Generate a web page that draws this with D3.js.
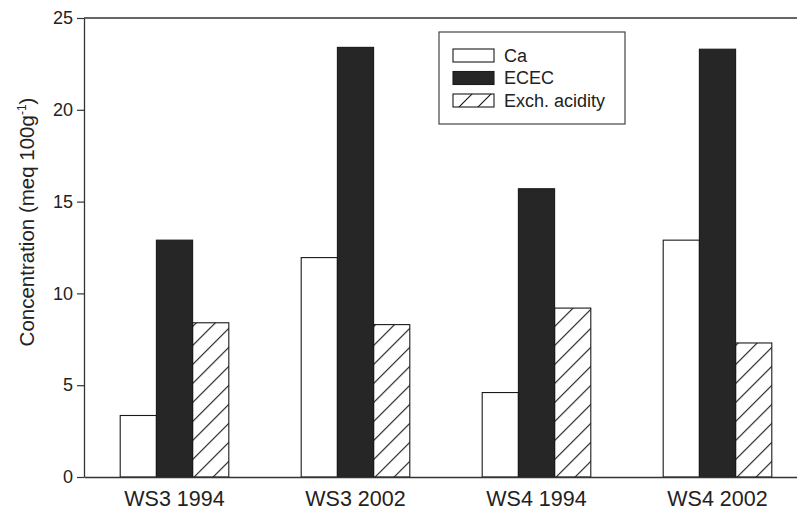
<!DOCTYPE html>
<html>
<head>
<meta charset="utf-8">
<script src="https://cdn.jsdelivr.net/npm/d3@7"></script>
<style>
  body { margin: 0; background: #fff; }
  svg { display: block; font-family: "Liberation Sans", Arial, sans-serif; }
</style>
</head>
<body>
<div id="chart"></div>
<script>
let w = 797; let h = 511;

// data
let sites = ["WS3 1994", "WS3 2002", "WS4 1994", "WS4 2002"];
let series = ["Ca", "ECEC", "Exch. acidity"];
let ca = [3.35, 11.95, 4.6, 12.9];
let ecec = [12.9, 23.4, 15.7, 23.3];
let exch = [8.4, 8.3, 9.2, 7.3];
let yTicks = [0, 5, 10, 15, 20, 25];

let rows = sites.map((s, i) => ({site: s, values: [ca[i], ecec[i], exch[i]]}));

let padL = 84, padT = 18, baseY = 477, padR = 808;

let svg = d3.select("#chart").append("svg")
  .attr("width", w).attr("height", h);

// hatch for exch. acidity
let defs = svg.append("defs");
defs.append("pattern")
  .attr("id", "hatch")
  .attr("patternUnits", "userSpaceOnUse")
  .attr("width", 19).attr("height", 19)
  .append("path")
  .attr("d", "M0,19 L19,0 M-5,5 L5,-5 M14,24 L24,14")
  .attr("stroke", "#111")
  .attr("stroke-width", 1.1);

let fills = ["#ffffff", "#262626", "url(#hatch)"];

//scales
let x = d3.scaleBand().domain(sites).range([padL, padR])
  .paddingInner(0.4).paddingOuter(0.2);
let xs = d3.scaleBand().domain(series).range([0, x.bandwidth()]);
let y = d3.scaleLinear().domain([0, 25]).range([baseY, padT]);

//bars
let groups = svg.append("g").selectAll("g").data(rows).enter().append("g")
  .attr("transform", d => "translate(" + x(d.site) + ",0)");

groups.selectAll("rect")
  .data(d => d.values.map((v, i) => ({key: series[i], v: v, i: i})))
  .enter().append("rect")
  .attr("x", d => xs(d.key))
  .attr("width", xs.bandwidth())
  .attr("y", d => y(d.v))
  .attr("height", d => baseY - y(d.v))
  .attr("fill", d => fills[d.i])
  .attr("stroke", "#1a1a1a")
  .attr("stroke-width", 1.1);

//axes
let yAxis = svg.append("g")
  .attr("transform", "translate(" + padL + ",0)")
  .call(d3.axisLeft(y).tickValues(yTicks).tickSize(7).tickPadding(4).tickSizeOuter(0));
yAxis.selectAll("text").attr("font-size", "18px").attr("fill", "#222")
  .attr("font-family", "Liberation Sans, Arial, sans-serif");
yAxis.selectAll("line").attr("stroke", "#333").attr("stroke-width", 1.2);
yAxis.select(".domain").attr("stroke", "#333").attr("stroke-width", 1.3);

let xAxis = svg.append("g")
  .attr("transform", "translate(0," + baseY + ")")
  .call(d3.axisBottom(x).tickSize(0).tickPadding(14).tickSizeOuter(0));
xAxis.selectAll("text").attr("font-size", "21.5px").attr("fill", "#222")
  .attr("font-family", "Liberation Sans, Arial, sans-serif");
xAxis.select(".domain").attr("stroke", "#333").attr("stroke-width", 1.3);

// top frame line
svg.append("line")
  .attr("x1", padL).attr("x2", padR)
  .attr("y1", padT).attr("y2", padT)
  .attr("stroke", "#333").attr("stroke-width", 1.3);

// y label
let yl = svg.append("text")
  .attr("transform", "translate(34," + 222 + ") rotate(-90)")
  .attr("text-anchor", "middle")
  .attr("font-size", "20.5px")
  .attr("fill", "#222");
yl.append("tspan").text("Concentration (meq 100g");
yl.append("tspan").text("-1").attr("font-size", "12px").attr("dy", -8);
yl.append("tspan").text(")").attr("dy", 8);

//legend
let lg = svg.append("g").attr("transform", "translate(439,32)");
lg.append("rect")
  .attr("width", 186).attr("height", 92)
  .attr("fill", "#fff").attr("stroke", "#444").attr("stroke-width", 1.2);

let items = lg.selectAll(".item").data(series).enter().append("g")
  .attr("class", "item")
  .attr("transform", (d, i) => "translate(14," + (17 + i * 22.5) + ")");
items.append("rect")
  .attr("width", 41).attr("height", 13)
  .attr("fill", (d, i) => fills[i])
  .attr("stroke", "#1a1a1a").attr("stroke-width", 1.1);
items.append("text")
  .attr("x", 51).attr("y", 6.5)
  .attr("dy", "0.35em")
  .attr("font-size", "18px")
  .attr("fill", "#222")
  .text(d => d);
</script>
</body>
</html>
